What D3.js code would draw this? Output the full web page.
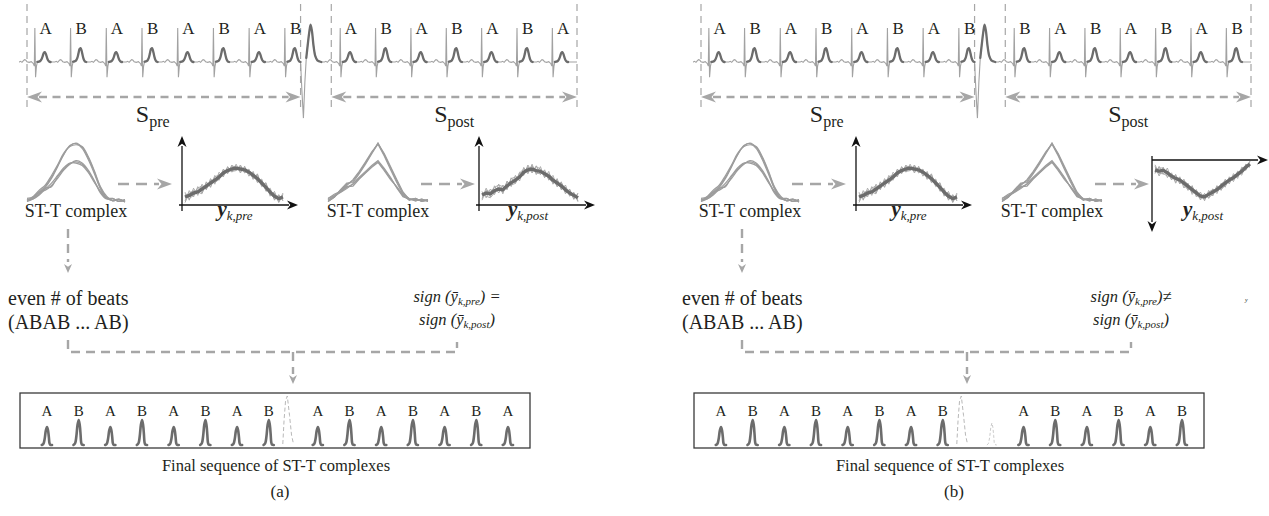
<!DOCTYPE html>
<html><head><meta charset="utf-8">
<script src="https://cdn.jsdelivr.net/npm/d3@7"></script>
<style>
body{margin:0;background:#fff}
svg{display:block}
</style>
</head><body>
<svg id="c" width="1269" height="516" font-family="'Liberation Serif', 'Times New Roman', Times, 'DejaVu Serif', serif"></svg>
<script>
// ================= DATA =================
const beatClasses = ["A", "B"];
const tWaveAmp = [0.29, 0.41];            // T-wave height per class (strip units)
const miniAmp = [0.72, 1.0];              // T height in final sequence per class

const preLabels = ["A","B","A","B","A","B","A","B"];
const postLabelsA = ["A","B","A","B","A","B","A"];
const postLabelsB = ["B","A","B","A","B","A","B"];

const preRTimes = [22,122,222,322,422,522,622,722];
const postRTimes = [877,976,1075,1174,1273,1372,1471];
const stripBounds = [0, 766, 852, 1540];
const ectAnchor = 766;
const sLabelTimes = [352, 1196];

// normal beat (relative to R), thin part
const beatTime = [-44,-40,-36,-32,-29,-26,-22,-16,-10,-4,-1.5,0,2,4.5,7];
const beatVolt = [0,0.02,-0.01,0.04,0.07,0.06,0.01,-0.01,0.01,-0.05,-0.12,1.0,-0.45,-0.12,0];
// T wave part (thick)
const tWaveTime = [7,11,15,19,22,25,28,31,34,37,40,44];
const tWaveShape = [0.02,0.04,0.1,0.3,0.6,0.92,1,0.8,0.45,0.18,0.05,0];
// ectopic beat
const ectTime = [0,4,8,12,16,20,24,28,32,36,41,47,58];
const ectVolt = [0,-0.9,-1.65,-0.6,0.12,0.5,0.85,1.1,0.9,0.5,0.18,0.05,0];
const ectThickFrom = 4;

// ST-T overlays (17 samples)
const stPreB = [
 [.03,.08,.17,.27,.42,.61,.81,.95,1.0,.93,.75,.51,.24,.08,.03,.05,.0],
 [.05,.05,.15,.25,.40,.60,.80,.96,.99,.91,.72,.48,.22,.07,.06,.01,.04],
 [.01,.09,.20,.29,.45,.63,.83,.94,.97,.94,.77,.53,.26,.10,.02,.04,.01]];
const stPreA = [
 [.03,.07,.14,.23,.26,.43,.56,.65,.68,.64,.52,.35,.17,.06,.03,.05,.01],
 [.06,.09,.17,.20,.28,.40,.54,.64,.70,.66,.54,.36,.15,.05,.06,.01,.04],
 [.01,.05,.12,.22,.32,.45,.58,.66,.66,.62,.50,.33,.18,.07,.02,.04,.0]];
const stPostB = [
 [.03,.10,.20,.30,.36,.50,.66,.83,1.0,.80,.58,.36,.15,.05,.05,.02,.04],
 [.06,.13,.18,.28,.38,.52,.68,.85,.98,.78,.55,.33,.13,.06,.02,.05,.01],
 [.01,.08,.21,.32,.33,.48,.64,.82,.99,.82,.60,.38,.17,.04,.06,.01,.03]];
const stPostA = [
 [.03,.09,.17,.25,.30,.40,.50,.60,.68,.55,.40,.25,.10,.04,.05,.02,.04],
 [.06,.11,.16,.23,.31,.42,.52,.62,.70,.57,.42,.24,.09,.05,.02,.05,.01],
 [.01,.08,.19,.26,.27,.39,.49,.59,.67,.53,.38,.26,.12,.03,.06,.01,.03]];

// y_k curves (24 samples)
const ykPreMean = [0.2,0.24,0.3,0.33,0.4,0.47,0.55,0.62,0.7,0.8,0.86,0.9,0.92,0.9,0.88,0.82,0.74,0.66,0.55,0.44,0.32,0.22,0.16,0.2];
const ykPreThin = [
 [0.1,0.36,0.2,0.46,0.3,0.56,0.46,0.74,0.62,0.9,0.78,1.0,0.86,0.98,0.8,0.9,0.64,0.76,0.46,0.54,0.22,0.34,0.06,0.26],
 [0.32,0.12,0.42,0.24,0.52,0.38,0.66,0.52,0.82,0.7,0.96,0.82,1.02,0.8,0.97,0.72,0.84,0.56,0.65,0.34,0.42,0.12,0.26,0.1],
 [0.06,0.3,0.36,0.32,0.28,0.58,0.44,0.7,0.76,0.74,0.94,0.84,0.86,1.0,0.82,0.86,0.66,0.78,0.48,0.56,0.24,0.3,0.08,0.3],
 [0.28,0.16,0.24,0.42,0.48,0.4,0.62,0.56,0.64,0.88,0.8,0.97,0.96,0.84,0.94,0.8,0.8,0.58,0.62,0.36,0.38,0.14,0.24,0.12]];
const ykPostMeanA = [0.25,0.3,0.28,0.36,0.4,0.38,0.48,0.56,0.62,0.7,0.82,0.88,0.9,0.86,0.84,0.78,0.72,0.62,0.55,0.48,0.38,0.3,0.24,0.18];
const ykPostThinA = [
 [0.16,0.42,0.2,0.48,0.3,0.5,0.38,0.68,0.54,0.82,0.74,1.0,0.82,0.98,0.76,0.88,0.62,0.74,0.46,0.58,0.28,0.4,0.16,0.28],
 [0.34,0.18,0.4,0.26,0.52,0.28,0.6,0.46,0.74,0.6,0.94,0.78,1.02,0.76,0.96,0.68,0.84,0.52,0.66,0.38,0.5,0.22,0.32,0.1],
 [0.12,0.36,0.34,0.44,0.5,0.46,0.4,0.66,0.7,0.68,0.76,0.96,0.8,0.96,0.9,0.7,0.78,0.68,0.46,0.56,0.32,0.38,0.14,0.3],
 [0.32,0.22,0.18,0.3,0.44,0.32,0.58,0.5,0.54,0.8,0.9,0.82,0.98,0.8,0.78,0.86,0.66,0.56,0.62,0.4,0.44,0.24,0.3,0.08]];
const ykPostMeanB = [0.25,0.28,0.26,0.32,0.4,0.46,0.5,0.58,0.66,0.74,0.82,0.9,0.92,0.86,0.8,0.74,0.66,0.58,0.5,0.44,0.36,0.28,0.18,0.1];
const ykPostThinB = [
 [0.16,0.4,0.18,0.44,0.32,0.58,0.42,0.7,0.58,0.86,0.74,1.0,0.84,0.96,0.72,0.84,0.58,0.68,0.42,0.54,0.28,0.38,0.1,0.18],
 [0.34,0.16,0.36,0.2,0.5,0.36,0.6,0.48,0.76,0.64,0.92,0.8,1.02,0.76,0.9,0.64,0.76,0.48,0.6,0.34,0.46,0.18,0.26,0.02],
 [0.12,0.34,0.34,0.4,0.38,0.54,0.44,0.64,0.74,0.68,0.88,0.96,0.84,0.94,0.86,0.66,0.74,0.64,0.44,0.5,0.3,0.34,0.12,0.18],
 [0.32,0.2,0.2,0.34,0.48,0.38,0.58,0.52,0.6,0.82,0.76,0.92,0.98,0.8,0.74,0.8,0.6,0.52,0.56,0.38,0.42,0.2,0.16,0.04]];

// final sequences: E = ectopic, x = excluded beat
const seqA = ["A","B","A","B","A","B","A","B","E","A","B","A","B","A","B","A"];
const seqB = ["A","B","A","B","A","B","A","B","E","x","A","B","A","B","A","B"];
const seqSlot = [0,1,2,3,4,5,6,7,7.6,8.55,9.55,10.55,11.55,12.55,13.55,14.55];
const miniTx = [-1.25,-0.85,-0.55,-0.28,0,0.25,0.45,0.58,0.75,1.2];
const miniTy = [0,0.07,0.35,0.8,1,0.8,0.42,0.12,0.02,0];
const ectMiniX = [-1,-0.75,-0.45,-0.1,0.35,0.75,1.1];
const ectMiniY = [0.02,0.5,0.9,1.0,0.6,0.2,0.04];

const panelTexts = [
  {rel:") =", tag:"(a)"},
  {rel:")\u2260", tag:"(b)"}
];

// ================= DRAW =================
const svg = d3.select("#c");
const GRAY = "#a6a6a6", DARK = "#6c6c6c", THIN = "#a2a2a2", INK = "#231f20";
const FONT = "'Liberation Serif', 'Times New Roman', Times, 'DejaVu Serif', serif";

function T(g) { return g.append("text").attr("font-family", FONT).attr("fill", INK); }
function arrowHead(g, x, y, ang, len, half, color) {
  g.append("path")
    .attr("d", `M0,0 L${-len},${-half} L${-len*0.7},0 L${-len},${half} Z`)
    .attr("transform", `translate(${x},${y}) rotate(${ang})`)
    .attr("fill", color);
}
function dline(g, x1, y1, x2, y2, w, dash, color) {
  g.append("line").attr("x1",x1).attr("y1",y1).attr("x2",x2).attr("y2",y2)
    .attr("stroke",color).attr("stroke-width",w).attr("stroke-dasharray",dash);
}
function ampOf(lbl){ return tWaveAmp[beatClasses.indexOf(lbl)]; }

function drawPanel(dx, postLabels, ykPostMean, ykPostThin, inverted, seq, txt) {
  const g = svg.append("g");

  // ---------- ECG strip ----------
  const xs = d3.scaleLinear().domain([stripBounds[0], stripBounds[3]]).range([27+dx, 577+dx]);
  const ys = d3.scaleLinear().domain([0, 1]).range([62, 28]);
  const pts = [[-20, 0]];
  const thick = [];
  const addBeat = (r, lbl) => {
    beatTime.forEach((t,j) => pts.push([r+t, beatVolt[j]]));
    const tw = tWaveTime.map((t,j) => [r+t, ampOf(lbl)*tWaveShape[j]]);
    pts.push(...tw); thick.push(tw);
  };
  preRTimes.forEach((r,i) => addBeat(r, preLabels[i]));
  const ect = ectTime.map((t,j) => [ectAnchor+t, ectVolt[j]]);
  pts.push(...ect); thick.push(ect.slice(ectThickFrom));
  postRTimes.forEach((r,i) => addBeat(r, postLabels[i]));
  pts.push([stripBounds[3], 0]);

  const line = d3.line().x(d => xs(d[0])).y(d => ys(d[1]));
  const lineS = d3.line().x(d => xs(d[0])).y(d => ys(d[1])).curve(d3.curveCatmullRom);

  stripBounds.forEach(t => dline(g, xs(t), 4, xs(t), 111, 1.2, "7,5", GRAY));
  g.append("path").attr("d", line(pts)).attr("fill","none").attr("stroke",THIN).attr("stroke-width",1.1);
  thick.forEach(tw => g.append("path").attr("d", lineS(tw)).attr("fill","none")
    .attr("stroke",DARK).attr("stroke-width",2.3).attr("stroke-linecap","round"));

  preRTimes.forEach((r,i) => T(g).attr("x", xs(r+30)).attr("y", 34).attr("font-size",17).attr("text-anchor","middle").text(preLabels[i]));
  postRTimes.forEach((r,i) => T(g).attr("x", xs(r+30)).attr("y", 34).attr("font-size",17).attr("text-anchor","middle").text(postLabels[i]));

  // S arrows
  const sArrow = (t0, t1, tl, sub) => {
    const x0 = xs(t0), x1 = xs(t1), y = 97;
    dline(g, x0+12, y, x1-12, y, 2.4, "8,5.5", GRAY);
    arrowHead(g, x0, y, 180, 15, 5.5, GRAY);
    arrowHead(g, x1, y, 0, 15, 5.5, GRAY);
    const t = T(g).attr("x", xs(tl)).attr("y", 122).attr("text-anchor","middle");
    t.append("tspan").attr("font-size", 24).text("S");
    t.append("tspan").attr("font-size", 16).attr("dy", 5).text(sub);
  };
  sArrow(stripBounds[0], stripBounds[1], sLabelTimes[0], "pre");
  sArrow(stripBounds[2], stripBounds[3], sLabelTimes[1], "post");

  // ---------- middle row ----------
  const stY = d3.scaleLinear().domain([0,1]).range([202, 143]);
  const drawOverlay = (x0, x1, setsB, setsA, curve) => {
    const sx = d3.scaleLinear().domain([0,16]).range([x0+dx, x1+dx]);
    const l = d3.line().x((d,i)=>sx(i)).y(d=>stY(d)).curve(curve);
    setsA.concat(setsB).forEach(s => g.append("path").attr("d", l(s)).attr("fill","none")
      .attr("stroke","#9c9c9c").attr("stroke-width",1.2));
    T(g).attr("x", (x0+x1)/2+dx).attr("y", 217).attr("text-anchor","middle")
      .attr("font-size", 18).text("ST-T complex");
  };
  drawOverlay(27, 125, stPreB, stPreA, d3.curveCatmullRom);
  drawOverlay(328, 428, stPostB, stPostA, d3.curveLinear);

  const midArrow = (x0, x1, y) => {
    dline(g, x0+dx, y, x1-13+dx, y, 2.4, "11,7", GRAY);
    arrowHead(g, x1+dx, y, 0, 15, 5.5, GRAY);
  };
  midArrow(118, 172, 184);
  midArrow(421, 475, 184);

  const drawYk = (ox, oy, x1, mean, thin, inv, sub, labX) => {
    ox += dx; x1 += dx;
    const sx = d3.scaleLinear().domain([0, mean.length-1]).range([ox+3, x1]);
    const sy = inv ? d3.scaleLinear().domain([0,1]).range([oy, oy+40])
                   : d3.scaleLinear().domain([0,1]).range([oy, oy-40]);
    const l = d3.line().x((d,i)=>sx(i)).y(d=>sy(d));
    thin.forEach(s => g.append("path").attr("d", l(s)).attr("fill","none")
      .attr("stroke","#a4a4a4").attr("stroke-width",0.9));
    g.append("path").attr("d", l(mean)).attr("fill","none").attr("stroke",DARK)
      .attr("stroke-width",3.4).attr("stroke-linejoin","round");
    if (!inv) {
      g.append("line").attr("x1",ox).attr("y1",oy+6).attr("x2",ox).attr("y2",146).attr("stroke","#111").attr("stroke-width",1.3);
      arrowHead(g, ox, 136, -90, 11, 4.5, "#111");
      g.append("line").attr("x1",ox-3).attr("y1",oy).attr("x2",ox+107).attr("y2",oy).attr("stroke","#111").attr("stroke-width",1.3);
      arrowHead(g, ox+116, oy, 0, 11, 4.5, "#111");
    } else {
      g.append("line").attr("x1",ox).attr("y1",oy-4).attr("x2",ox).attr("y2",222).attr("stroke","#111").attr("stroke-width",1.3);
      arrowHead(g, ox, 232, 90, 11, 4.5, "#111");
      g.append("line").attr("x1",ox).attr("y1",oy).attr("x2",ox+106).attr("y2",oy).attr("stroke","#111").attr("stroke-width",1.3);
      arrowHead(g, ox+116, oy, 0, 11, 4.5, "#111");
    }
    const t = T(g).attr("x", labX+dx).attr("y", 216).attr("text-anchor","middle");
    t.append("tspan").attr("font-size", 21).attr("font-weight","bold").attr("font-style","italic").text("y");
    t.append("tspan").attr("font-size", 13).attr("font-style","italic").attr("dy", 4).text(sub);
  };
  drawYk(182, 205, 283, ykPreMean, ykPreThin, false, "k,pre", 235);
  if (!inverted) drawYk(479, 205, 578, ykPostMean, ykPostThin, false, "k,post", 528);
  else drawYk(478, 160, 576, ykPostMean, ykPostThin, true, "k,post", 529);

  // ---------- lower logic ----------
  dline(g, 68+dx, 229, 68+dx, 262, 2.4, "9,6", GRAY);
  arrowHead(g, 68+dx, 273, 90, 9, 4, GRAY);
  T(g).attr("x", 8+dx).attr("y", 305).attr("font-size", 20).text("even # of beats");
  T(g).attr("x", 8+dx).attr("y", 329).attr("font-size", 20).text("(ABAB ... AB)");

  const signLine = (y, sub, rel) => {
    const t = T(g).attr("x", 457+dx).attr("y", y).attr("text-anchor","middle")
      .attr("font-size", 16.5).attr("font-style","italic");
    t.append("tspan").text("sign (\u0233");
    t.append("tspan").attr("font-size", 11).attr("dy", 3).text(sub);
    t.append("tspan").attr("dy", -3).text(rel);
  };
  signLine(302, "k,pre", txt.rel);
  signLine(325, "k,post", ")");

  const LY = 352;
  g.append("path").attr("d", `M${68+dx},340 V${LY} H${457+dx} V342`)
    .attr("fill","none").attr("stroke",GRAY).attr("stroke-width",2.4).attr("stroke-dasharray","9,6");
  dline(g, 293+dx, LY, 293+dx, 374, 2.4, "9,6", GRAY);
  arrowHead(g, 293+dx, 384, 90, 9, 4, GRAY);

  // ---------- final sequence box ----------
  g.append("rect").attr("x", 20+dx).attr("y", 393).attr("width", 510).attr("height", 55)
    .attr("fill","none").attr("stroke","#3a3a3a").attr("stroke-width",1.3);
  const slot = d3.scaleLinear().domain([seqSlot[0], seqSlot[seqSlot.length-1]]).range([47+dx, 508+dx]);
  const mh = d3.scaleLinear().domain([0,1]).range([445, 420]);
  seq.forEach((s,i) => {
    const cx = slot(seqSlot[i]);
    if (s === "E") {
      const l = d3.line().x((d,j)=>cx + ectMiniX[j]*5).y((d,j)=>445 - ectMiniY[j]*49);
      g.append("path").attr("d", l(ectMiniX)).attr("fill","none").attr("stroke","#b8b8b8")
        .attr("stroke-width",1).attr("stroke-dasharray","4,2.5");
    } else if (s === "x") {
      const l = d3.line().x((d,j)=>cx + miniTx[j]*4).y((d,j)=>445 - miniTy[j]*22);
      g.append("path").attr("d", l(miniTx)).attr("fill","none").attr("stroke","#c4c4c4")
        .attr("stroke-width",0.9).attr("stroke-dasharray","3,2");
    } else {
      const a = miniAmp[beatClasses.indexOf(s)];
      const l = d3.line().x((d,j)=>cx + miniTx[j]*4.2).y((d,j)=>mh(miniTy[j]*a)).curve(d3.curveCatmullRom);
      g.append("path").attr("d", l(miniTx)).attr("fill","none").attr("stroke",DARK)
        .attr("stroke-width",2.6).attr("stroke-linecap","round");
      T(g).attr("x", cx).attr("y", 416).attr("text-anchor","middle").attr("font-size", 15).text(s);
    }
  });
  T(g).attr("x", 276+dx).attr("y", 471).attr("text-anchor","middle").attr("font-size", 16.5)
    .text("Final sequence of ST-T complexes");
  T(g).attr("x", 280+dx).attr("y", 497).attr("text-anchor","middle").attr("font-size", 17)
    .text(txt.tag);
}

drawPanel(0, postLabelsA, ykPostMeanA, ykPostThinA, false, seqA, panelTexts[0]);
drawPanel(674, postLabelsB, ykPostMeanB, ykPostThinB, true, seqB, panelTexts[1]);
T(svg).attr("x", 1245).attr("y", 302).attr("font-size", 6).attr("font-style","italic").text("y");
</script>
</body></html>
